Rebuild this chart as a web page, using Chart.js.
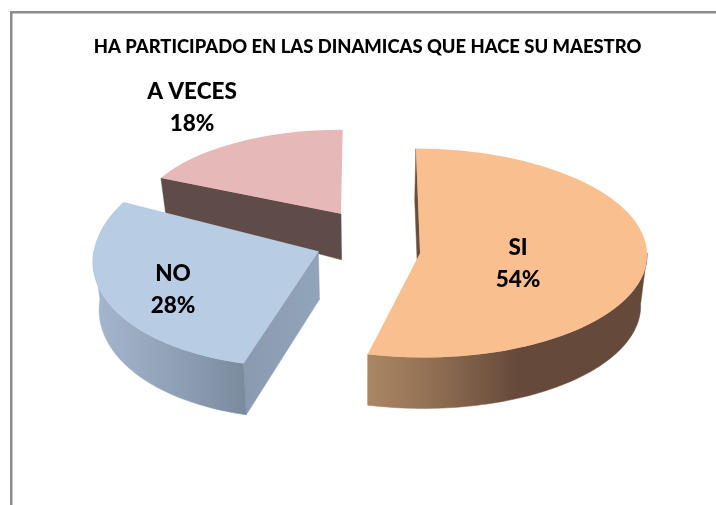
<!DOCTYPE html>
<html>
<head>
<meta charset="utf-8">
<style>html,body{margin:0;padding:0;background:#fff}canvas{display:block}</style>
<script src="https://cdn.jsdelivr.net/npm/chart.js@4"></script>
</head>
<body>
<canvas id="c" width="716" height="505"></canvas>
<script>
// Data
const titleText = 'HA PARTICIPADO EN LAS DINAMICAS QUE HACE SU MAESTRO';
const categories = ['SI', 'NO', 'A VECES'];
const percentages = [54, 28, 18];
const topColors = ['#F9BF8F', '#B8CCE4', '#E6B8B7'];

// 3D look (perspective per slice: same order as categories)
const FONT = 'Lato, "Open Sans", sans-serif';
const RADIUS = 227, EXPLODE = 52, VANISH_X = 365, WALL_SHRINK = 0.977;
const scaleX = [1, 0.99, 0.88];
const scaleY = [0.46, 0.51, 0.37];
const shear = [0.04, -0.17, -0.02];
const nudgeX = [1, -2.5, -2];
const nudgeY = [10, 0, -10];
const wallDepth = [51, 48, 46];
const wallSlope = [0, 0.03, 0.3];
const drawOrder = [2, 1, 0];
const labelAnchor = [[518, 248], [173, 274], [192, 92]];
const LINE_GAP = 32;

class Pie3D extends Chart.DoughnutController {
  static id = 'pie3d';
  geometry(i) {
    const arc = this._cachedMeta.data[i];
    const mid = (arc.startAngle + arc.endAngle) / 2;
    const ax = arc.x + Math.cos(mid) * EXPLODE * scaleX[i] + nudgeX[i];
    const ay = arc.y + Math.sin(mid) * EXPLODE * scaleY[i] + nudgeY[i];
    const top = a => {
      const v = Math.sin(a) * arc.outerRadius * scaleY[i];
      return [ax + Math.cos(a) * arc.outerRadius * scaleX[i] + shear[i] * v, ay + v];
    };
    const low = p => [VANISH_X + (p[0] - VANISH_X) * WALL_SHRINK, p[1] + wallDepth[i] + wallSlope[i] * (p[1] - ay)];
    return {arc, ax, ay, top, low};
  }
  poly(ctx, pts, fill) {
    ctx.beginPath();
    pts.forEach((p, k) => k ? ctx.lineTo(p[0], p[1]) : ctx.moveTo(p[0], p[1]));
    ctx.closePath();
    ctx.fillStyle = fill;
    ctx.fill();
    ctx.strokeStyle = fill;
    ctx.lineWidth = 0.5;
    ctx.stroke();
  }
  outerWall(ctx, g, from, to, fill) {
    const upper = [], lower = [];
    const n = 80;
    for (let k = 0; k <= n; k++) {
      const p = g.top(from + (to - from) * k / n);
      upper.push(p);
      lower.unshift(g.low(p));
    }
    this.poly(ctx, upper.concat(lower), fill);
  }
  gradient(ctx, x0, x1, stops) {
    const gr = ctx.createLinearGradient(x0, 0, x1, 0);
    stops.forEach(s => gr.addColorStop(s[0], s[1]));
    return gr;
  }
  draw() {
    const ctx = this.chart.ctx;
    drawOrder.forEach(i => {
      const g = this.geometry(i);
      const {arc, ax, ay} = g;
      const apex = [ax, ay];
      if (i === 2) {
        const s = g.top(arc.startAngle);
        this.poly(ctx, [s, apex, g.low(apex), g.low(s)], '#5F4B48');
      }
      if (i === 1) {
        const s = g.top(arc.startAngle);
        this.poly(ctx, [apex, s, g.low(s), g.low(apex)], this.gradient(ctx, 245, 320, [[0, '#8A9BB0'], [1, '#92A4B9']]));
        this.outerWall(ctx, g, arc.startAngle, Math.PI,
          this.gradient(ctx, 92, 248, [[0, '#A5B7CE'], [0.55, '#8FA0B6'], [1, '#7A8A9D']]));
      }
      if (i === 0) {
        const e = g.top(arc.startAngle);
        this.poly(ctx, [e, apex, g.low(apex), g.low(e)], '#6A4E3B');
        this.outerWall(ctx, g, 0, arc.endAngle,
          this.gradient(ctx, 369, 640, [[0, '#AA8663'], [0.2, '#957355'], [0.55, '#65493A'], [1, '#65493A']]));
      }
      ctx.save();
      ctx.translate(ax, ay);
      ctx.transform(1, 0, shear[i], 1, 0, 0);
      ctx.scale(scaleX[i], scaleY[i]);
      ctx.translate(-arc.x, -arc.y);
      arc.draw(ctx);
      ctx.restore();
    });
  }
}
Chart.register(Pie3D);

const framePlugin = {
  id: 'frame',
  beforeDraw(chart) {
    const ctx = chart.ctx;
    ctx.fillStyle = '#8C8C8C';
    ctx.fillRect(10, 11, 706, 2.5);
    ctx.fillRect(10, 11, 2.5, 494);
  }
};
const labelPlugin = {
  id: 'sliceLabels',
  afterDatasetsDraw(chart) {
    const ctx = chart.ctx;
    ctx.save();
    ctx.fillStyle = '#000';
    ctx.font = '900 22.5px ' + FONT;
    ctx.textAlign = 'center';
    ctx.textBaseline = 'middle';
    categories.forEach((name, i) => {
      const [x, y] = labelAnchor[i];
      ctx.fillText(name, x, y);
      ctx.fillText(percentages[i] + '%', x, y + LINE_GAP);
    });
    ctx.restore();
  }
};

new Chart(document.getElementById('c'), {
  type: 'pie3d',
  data: {
    labels: categories,
    datasets: [{
      data: percentages,
      backgroundColor: topColors,
      borderWidth: 0,
      radius: RADIUS,
      cutout: 0
    }]
  },
  plugins: [framePlugin, labelPlugin],
  options: {
    responsive: false,
    animation: false,
    layout: {padding: {left: 19, bottom: 93}},
    plugins: {
      legend: {display: false},
      tooltip: {enabled: false},
      title: {
        display: true,
        text: titleText,
        color: '#000',
        font: {family: FONT, size: 18.4, weight: '900'},
        padding: {top: 36, bottom: 10}
      }
    }
  }
});
</script>
</body>
</html>
